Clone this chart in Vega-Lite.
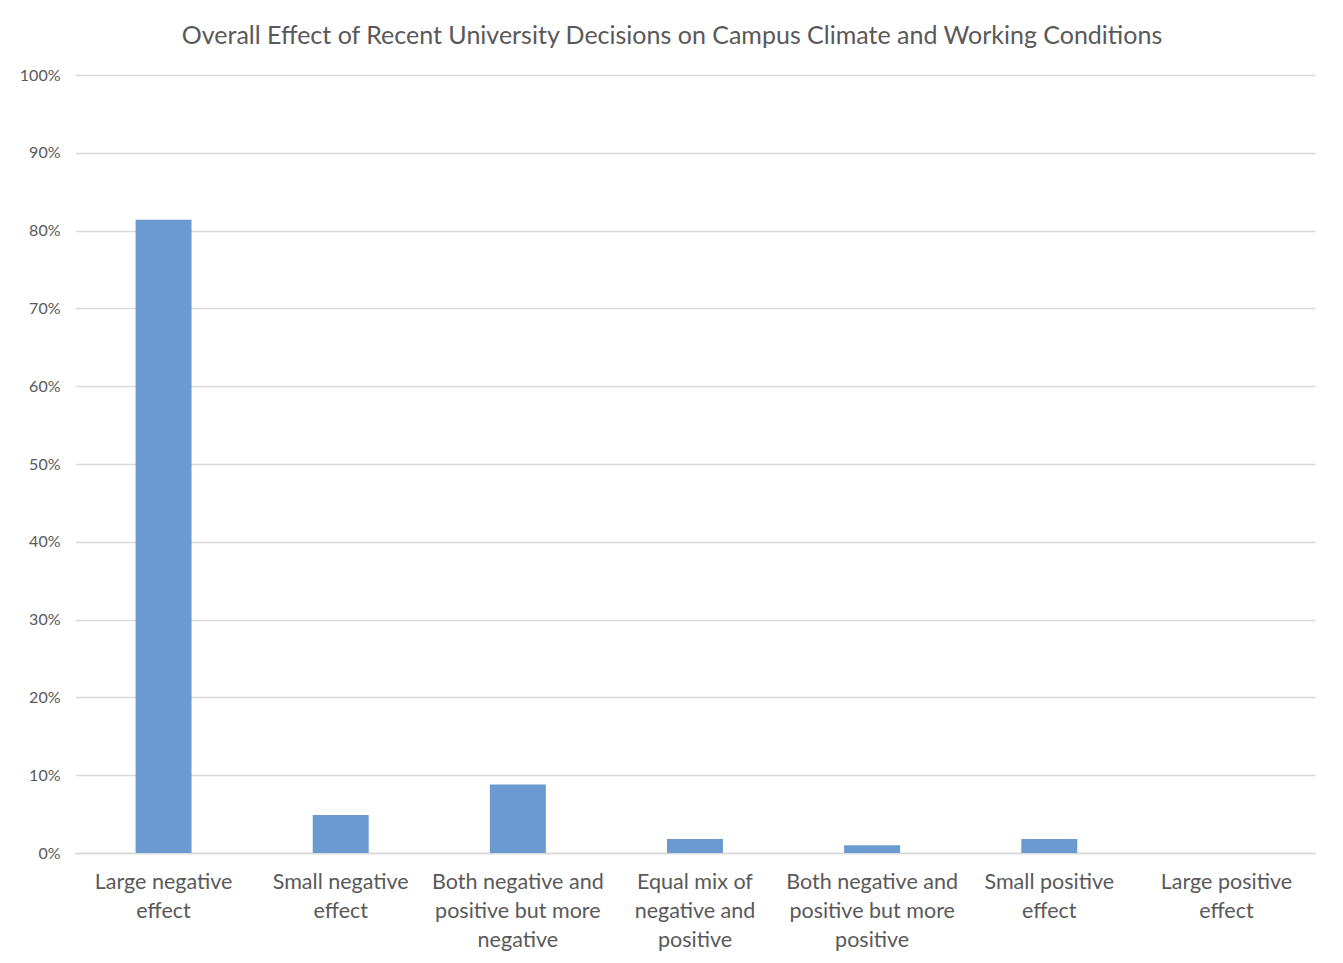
{
  "$schema": "https://vega.github.io/schema/vega-lite/v6.json",
  "width": 1240,
  "height": 778,
  "autosize": {"type": "none"},
  "padding": {"left": 75, "top": 75, "right": 28, "bottom": 110},
  "background": "white",
  "title": {
    "text": "Overall Effect of Recent University Decisions on Campus Climate and Working Conditions",
    "font": "Lato",
    "fontSize": 25,
    "fontWeight": "normal",
    "color": "#595959",
    "anchor": "middle",
    "dx": -23,
    "offset": 18
  },
  "data": {
    "values": [
      {"effect": "Large negative effect", "share": 0.814},
      {"effect": "Small negative effect", "share": 0.049},
      {"effect": "Both negative and positive but more negative", "share": 0.088},
      {"effect": "Equal mix of negative and positive", "share": 0.018},
      {"effect": "Both negative and positive but more positive", "share": 0.01},
      {"effect": "Small positive effect", "share": 0.018},
      {"effect": "Large positive effect", "share": 0.0}
    ]
  },
  "mark": {"type": "bar", "color": "#6a9ad0"},
  "encoding": {
    "x": {
      "field": "effect",
      "type": "nominal",
      "sort": null,
      "scale": {"paddingInner": 0.684, "paddingOuter": 0.342},
      "axis": {
        "title": null,
        "labelAngle": 0,
        "labelFont": "Lato",
        "labelFontSize": 21.5,
        "labelColor": "#595959",
        "labelPadding": 18,
        "labelLineHeight": 29,
        "labelBaseline": "top",
        "labelLimit": 200,
        "ticks": false,
        "domainColor": "#d9d9d9",
        "domainWidth": 1.5,
        "labelExpr": "datum.value == 'Large negative effect' ? ['Large negative', 'effect'] : datum.value == 'Small negative effect' ? ['Small negative', 'effect'] : datum.value == 'Both negative and positive but more negative' ? ['Both negative and', 'positive but more', 'negative'] : datum.value == 'Equal mix of negative and positive' ? ['Equal mix of', 'negative and', 'positive'] : datum.value == 'Both negative and positive but more positive' ? ['Both negative and', 'positive but more', 'positive'] : datum.value == 'Small positive effect' ? ['Small positive', 'effect'] : ['Large positive', 'effect']"
      }
    },
    "y": {
      "field": "share",
      "type": "quantitative",
      "scale": {"domain": [0, 1], "nice": false},
      "axis": {
        "title": null,
        "format": ".0%",
        "values": [0, 0.1, 0.2, 0.3, 0.4, 0.5, 0.6, 0.7, 0.8, 0.9, 1.0],
        "labelOverlap": false,
        "labelFont": "Lato",
        "labelFontSize": 16,
        "labelColor": "#595959",
        "labelPadding": 15,
        "ticks": false,
        "domain": false,
        "gridColor": "#d9d9d9",
        "gridWidth": 1.5
      }
    }
  },
  "config": {"view": {"stroke": null}}
}
